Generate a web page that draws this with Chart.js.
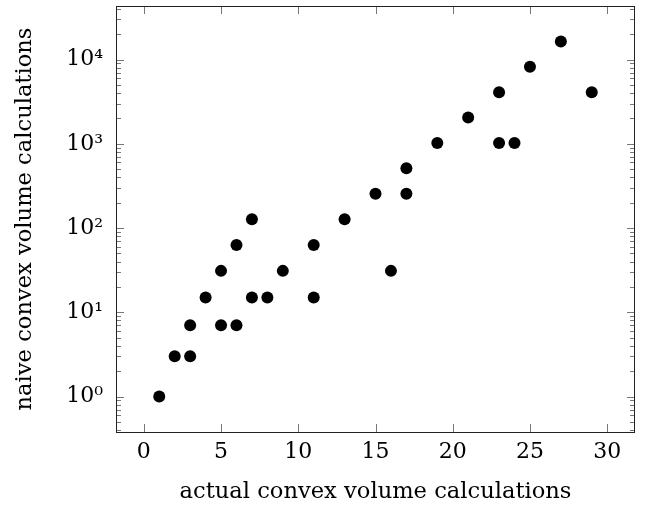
<!DOCTYPE html>
<html>
<head>
  <meta charset="utf-8">
  <title>Naive vs actual convex volume calculations</title>
  <script src="https://cdn.jsdelivr.net/npm/chart.js"></script>
  <style>
    body { margin: 0; background: #fff; }
    #wrap { width: 649px; height: 510px; }
  </style>
</head>
<body>
  <div id="wrap"><canvas id="chart"></canvas></div>

  <script>
    // Data
    const actualCalcs = [1, 2, 3, 3, 5, 6, 4, 7, 8, 11, 5, 9, 16, 6, 11, 7, 13, 15, 17, 17, 19, 23, 24, 21, 23, 29, 25, 27];
    const naiveCalcs  = [1, 3, 3, 7, 7, 7, 15, 15, 15, 15, 31, 31, 31, 63, 63, 127, 127, 255, 255, 511, 1023, 1023, 1023, 2047, 4095, 4095, 8191, 16383];

    // Axis ticks
    const xTicks = [0, 5, 10, 15, 20, 25, 30];
    const yTicks = [1, 10, 100, 1000, 10000];
    const yTickLabels = ['10\u2070', '10\u00b9', '10\u00b2', '10\u00b3', '10\u2074'];

    const points = actualCalcs.map((x, i) => ({ x: x, y: naiveCalcs[i] }));

    // pgfplots-style limits: data range enlarged by 10% on each side
    const xLo = Math.min(...actualCalcs), xHi = Math.max(...actualCalcs);
    const xPad = (xHi - xLo) * 0.1;
    const lLo = Math.log10(Math.min(...naiveCalcs)), lHi = Math.log10(Math.max(...naiveCalcs));
    const lPad = (lHi - lLo) * 0.1;

    const serif = "'DejaVu Serif', serif";

    // box with inward ticks on all four sides (major + log minor ticks)
    const framePlugin = {
      id: 'frame',
      beforeDatasetsDraw(chart) {
        const { ctx, chartArea: a, scales } = chart;
        const xs = scales.x, ys = scales.y;
        ctx.save();
        ctx.lineWidth = 1;
        ctx.strokeStyle = '#777';
        ctx.beginPath();
        xTicks.forEach(v => {
          const px = Math.round(xs.getPixelForValue(v)) + 0.5;
          ctx.moveTo(px, a.bottom); ctx.lineTo(px, a.bottom - 8);
          ctx.moveTo(px, a.top); ctx.lineTo(px, a.top + 8);
        });
        yTicks.forEach(v => {
          const py = Math.round(ys.getPixelForValue(v)) + 0.5;
          ctx.moveTo(a.left, py); ctx.lineTo(a.left + 8, py);
          ctx.moveTo(a.right, py); ctx.lineTo(a.right - 8, py);
        });
        for (let k = -1; k <= 4; k++) {
          for (let m = 2; m <= 9; m++) {
            const v = m * Math.pow(10, k);
            if (v < ys.min || v > ys.max) continue;
            const py = Math.round(ys.getPixelForValue(v)) + 0.5;
            ctx.moveTo(a.left, py); ctx.lineTo(a.left + 5, py);
            ctx.moveTo(a.right, py); ctx.lineTo(a.right - 5, py);
          }
        }
        ctx.stroke();
        ctx.strokeStyle = '#222';
        ctx.strokeRect(Math.round(a.left) + 0.5, Math.round(a.top) + 0.5,
                       Math.round(a.right - a.left) - 1, Math.round(a.bottom - a.top));
        ctx.restore();
      }
    };

    new Chart(document.getElementById('chart'), {
      type: 'scatter',
      data: {
        datasets: [{
          data: points,
          backgroundColor: '#000',
          borderWidth: 0,
          pointRadius: 6,
          pointHoverRadius: 6
        }]
      },
      options: {
        responsive: true,
        maintainAspectRatio: false,
        animation: false,
        layout: { padding: { top: 3, right: 14, left: 0, bottom: 0 } },
        plugins: {
          legend: { display: false },
          tooltip: { enabled: false }
        },
        scales: {
          x: {
            type: 'linear',
            min: xLo - xPad,
            max: xHi + xPad,
            afterBuildTicks: s => { s.ticks = xTicks.map(v => ({ value: v })); },
            afterFit: s => { s.height = 78; s.paddingLeft = 0; s.paddingRight = 0; },
            grid: { display: false, drawTicks: false },
            border: { display: false },
            ticks: {
              padding: 7,
              color: '#000',
              font: { family: serif, size: 22 }
            },
            title: {
              display: true,
              text: 'actual convex volume calculations',
              color: '#000',
              font: { family: serif, size: 22.6 },
              padding: { top: 0, bottom: 4 }
            }
          },
          y: {
            type: 'logarithmic',
            min: Math.pow(10, lLo - lPad),
            max: Math.pow(10, lHi + lPad),
            afterBuildTicks: s => { s.ticks = yTicks.map(v => ({ value: v, major: true })); },
            afterFit: s => { s.width = 116; s.paddingTop = 0; s.paddingBottom = 0; },
            grid: { display: false, drawTicks: false },
            border: { display: false },
            ticks: {
              padding: 13,
              color: '#000',
              font: { family: serif, size: 22 },
              callback: (v) => yTickLabels[yTicks.indexOf(v)]
            },
            title: {
              display: true,
              text: 'naive convex volume calculations',
              color: '#000',
              font: { family: serif, size: 22.6 },
              padding: { top: 12, bottom: 0 }
            }
          }
        }
      },
      plugins: [framePlugin]
    });
  </script>
</body>
</html>
